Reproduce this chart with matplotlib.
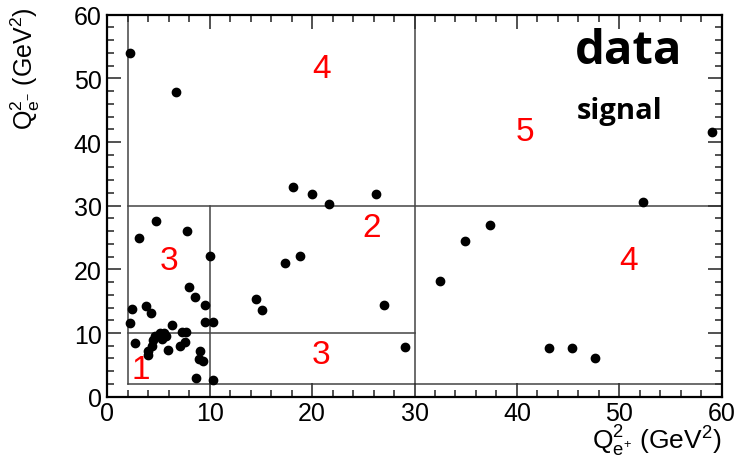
import matplotlib
matplotlib.use('Agg')
import matplotlib.pyplot as plt
from matplotlib.ticker import MultipleLocator

plt.rcParams['font.family'] = ['Liberation Sans', 'DejaVu Sans']
plt.rcParams['mathtext.fontset'] = 'custom'
plt.rcParams['mathtext.rm'] = 'Liberation Sans'
plt.rcParams['mathtext.it'] = 'Liberation Sans'

# Q2 of e+ and e- for each event
q2_pos = [2.2, 6.7, 18.1, 20.0, 21.6, 26.2, 59.0, 52.3, 4.76, 3.1,
          7.78, 10.06, 17.35, 18.8, 37.4, 34.9, 32.5, 8.0, 8.6, 9.55,
          2.42, 3.78, 4.27, 14.5, 15.1, 27.0, 2.2, 6.35, 9.5, 10.35,
          7.26, 7.69, 2.7, 4.66, 5.15, 5.54, 4.5, 5.31, 5.73, 4.33,
          4.0, 4.0, 7.1, 7.59, 5.96, 9.05, 8.96, 9.38, 8.66, 10.29,
          29.1, 43.1, 45.4, 47.6]
q2_neg = [54.0, 47.8, 32.9, 31.8, 30.2, 31.9, 41.6, 30.6, 27.6, 24.9,
          26.0, 22.1, 21.05, 22.05, 27.0, 24.45, 18.2, 17.3, 15.6, 14.4,
          13.8, 14.3, 13.15, 15.35, 13.6, 14.4, 11.6, 11.2, 11.7, 11.7,
          10.2, 10.2, 8.4, 9.58, 10.0, 10.0, 8.95, 9.06, 9.58, 8.0,
          7.22, 6.55, 8.0, 8.54, 7.33, 7.22, 5.92, 5.65, 2.89, 2.67,
          7.85, 7.65, 7.65, 6.08]

# region boundaries
q2_min = 2
cut_low = 10
cut_high = 30
q2_max = 60

# region labels
region_names = ['1', '3', '3', '2', '4', '4', '5']
region_x = [3.3, 6.0, 20.9, 25.8, 20.9, 50.9, 40.8]
region_y = [4.3, 21.4, 6.7, 26.6, 51.5, 21.4, 41.6]

fig = plt.figure(figsize=(7.38, 4.64), dpi=100)
ax = fig.add_axes([0.1454, 0.1429, 0.8326, 0.8233])

line_kw = dict(color='#444444', linewidth=1.1, zorder=1)
ax.plot([q2_min, q2_max], [q2_min, q2_min], **line_kw)
ax.plot([q2_min, q2_min], [q2_min, q2_max], **line_kw)
ax.plot([cut_high, cut_high], [q2_min, q2_max], **line_kw)
ax.plot([q2_min, q2_max], [cut_high, cut_high], **line_kw)
ax.plot([q2_min, cut_high], [cut_low, cut_low], **line_kw)
ax.plot([cut_low, cut_low], [q2_min, cut_high], **line_kw)

ax.scatter(q2_pos, q2_neg, s=36, color='black', zorder=3)

for name, x, y in zip(region_names, region_x, region_y):
    ax.text(x, y, name, color='red', fontsize=24, ha='center', va='center')

ax.text(50.9, 54.4, 'data', fontsize=34, fontweight='bold', ha='center', va='center',
        family=['Open Sans', 'DejaVu Sans'])
ax.text(50.0, 44.9, 'signal', fontsize=21, fontweight='bold', ha='center', va='center',
        family=['Open Sans', 'DejaVu Sans'])

ax.set_xlim(0, 60)
ax.set_ylim(0, 60)
ax.xaxis.set_major_locator(MultipleLocator(10))
ax.xaxis.set_minor_locator(MultipleLocator(2))
ax.yaxis.set_major_locator(MultipleLocator(10))
ax.yaxis.set_minor_locator(MultipleLocator(2))
ax.tick_params(which='both', direction='in', top=True, right=True, labelsize=18,
               width=1.2, color='#333333')
ax.tick_params(which='major', length=10)
ax.tick_params(which='minor', length=5)
ax.tick_params(axis='x', pad=3)
ax.tick_params(axis='y', pad=4)
for sp in ax.spines.values():
    sp.set_linewidth(1.6)

fig.text(0.978, 0.012, r'$\mathrm{Q}^{2}_{\mathrm{e}^{+}}$ (GeV$^{2}$)', fontsize=19,
         ha='right', va='bottom')
fig.text(0.034, 0.985, r'$\mathrm{Q}^{2}_{\mathrm{e}^{-}}$ (GeV$^{2}$)', fontsize=18,
         ha='center', va='top', rotation=90)

fig.savefig('out.png', dpi=100)
